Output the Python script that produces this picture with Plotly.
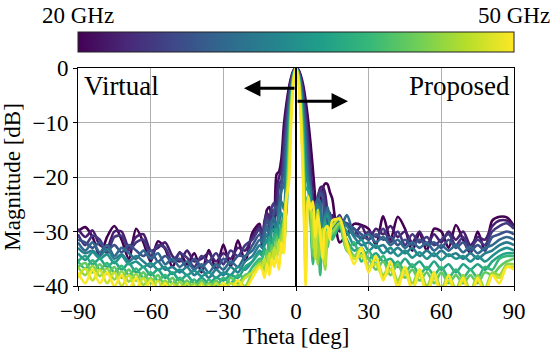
import plotly.graph_objects as go
from plotly.colors import sample_colorscale

# ---- data ----
FREQS_GHZ = [20, 22.5, 25, 27.5, 30, 32.5, 35, 37.5, 40, 42.5, 45, 47.5, 50]

THETA_LEFT = list(range(-90, -14, 3))      # -90 .. -15
THETA_CENTER = list(range(-14, 15, 1))     # -14 .. 14
THETA_RIGHT = list(range(15, 91, 3))       # 15 .. 90

DB_20_0 = ([-30.0, -29.2, -31.0, -34.5, -31.0, -29.0, -31.5, -35.0, -29.5, -32.0,
            -35.5, -31.8, -33.2, -36.5, -33.8, -36.0, -34.0, -37.5, -33.4, -37.0,
            -32.4, -36.5, -31.6, -35.5, -30.2, -28.6]
           + [-33.0, -29.5, -26.0, -25.5, -27.5, -30.0, -19.5, -19.0, -16.5, -10.5,
              -6.7, -3.8, -1.7, -0.4, 0.0, -0.3, -1.4, -3.2, -6.0, -9.5,
              -13.8, -18.8, -24.5, -35.0, -25.5, -22.2, -21.2, -21.3, -22.8]
           + [-24.0, -32.0, -30.5, -28.6, -28.8, -29.5, -32.5, -27.2, -31.5, -27.3,
              -29.5, -33.5, -30.4, -33.5, -29.5, -30.0, -33.0, -28.8, -31.5, -34.0,
              -30.0, -33.5, -28.0, -27.3, -27.4, -29.0])
DB_22_5 = ([-29.5, -31.0, -29.8, -32.5, -33.0, -30.0, -30.0, -33.0, -31.0, -30.5,
            -33.5, -33.0, -32.0, -34.5, -35.5, -33.5, -35.5, -35.0, -34.0, -35.5,
            -34.0, -35.0, -33.0, -33.5, -31.0, -29.0]
           + [-32.0, -28.0, -26.5, -27.5, -26.0, -28.5, -22.5, -20.0, -18.5, -13.0,
              -8.2, -4.6, -2.0, -0.5, 0.0, -0.4, -1.8, -4.2, -7.8, -12.5,
              -18.0, -24.0, -33.0, -24.5, -22.0, -21.8, -23.0, -26.5, -29.0]
           + [-27.0, -30.0, -28.5, -30.5, -29.0, -31.5, -29.5, -30.5, -29.0, -31.0,
              -30.0, -32.0, -30.0, -32.5, -30.5, -32.0, -30.0, -31.5, -30.0, -32.5,
              -31.0, -31.5, -29.0, -28.0, -28.0, -29.0])
DB_25_0 = ([-30.5, -32.5, -30.8, -31.5, -34.0, -31.0, -30.8, -33.5, -32.0, -31.5,
            -34.5, -32.5, -33.0, -35.5, -34.0, -34.8, -36.5, -34.5, -35.5, -34.0,
            -36.0, -33.5, -34.5, -32.5, -31.5, -29.5]
           + [-31.0, -28.5, -27.0, -29.5, -25.5, -24.8, -27.0, -21.5, -20.5, -15.5,
              -10.0, -5.6, -2.5, -0.6, 0.0, -0.5, -2.2, -5.0, -9.2, -14.5,
              -20.5, -30.0, -27.0, -23.5, -22.5, -22.8, -25.0, -30.0, -26.5]
           + [-29.0, -27.0, -30.5, -29.5, -31.5, -30.0, -31.0, -29.5, -32.0, -30.0,
              -32.5, -30.5, -32.0, -31.0, -32.5, -31.5, -30.5, -32.5, -31.0, -33.0,
              -31.5, -32.5, -30.0, -29.0, -28.5, -29.5])
DB_27_5 = ([-31.5, -32.0, -33.0, -32.0, -33.5, -32.5, -33.8, -32.5, -33.5, -34.5,
            -33.5, -35.5, -34.5, -35.5, -35.0, -36.5, -35.0, -36.5, -35.5, -37.0,
            -35.0, -36.0, -34.5, -34.5, -32.5, -30.5]
           + [-31.5, -29.5, -28.0, -28.5, -29.5, -26.0, -25.5, -28.5, -21.5, -18.5,
              -12.0, -6.8, -3.0, -0.7, 0.0, -0.7, -2.7, -6.2, -11.2, -17.5,
              -21.5, -26.0, -31.0, -24.5, -23.0, -23.8, -28.0, -27.5, -27.0]
           + [-28.0, -28.0, -28.5, -29.5, -30.5, -31.5, -30.5, -31.5, -31.0, -32.5,
              -31.5, -32.5, -31.5, -32.5, -32.0, -33.0, -31.5, -33.0, -32.0, -33.5,
              -32.5, -33.5, -31.0, -30.5, -30.0, -30.5])
DB_30_0 = ([-32.0, -33.5, -32.0, -33.8, -32.5, -34.5, -33.0, -34.0, -35.0, -33.5,
            -35.0, -34.0, -36.0, -35.0, -36.5, -35.5, -37.0, -36.0, -37.5, -36.0,
            -37.0, -35.5, -36.5, -34.5, -33.5, -31.5]
           + [-32.0, -30.5, -29.0, -31.0, -28.0, -27.5, -30.0, -25.0, -22.5, -21.5,
              -14.5, -8.2, -3.7, -0.9, 0.0, -0.8, -3.3, -7.5, -13.5, -20.0,
              -22.0, -32.0, -25.5, -24.0, -24.5, -29.0, -27.0, -25.5, -27.5]
           + [-28.5, -29.5, -27.0, -30.5, -31.0, -30.5, -32.0, -31.0, -32.5, -31.5,
              -33.0, -32.0, -33.0, -32.0, -33.5, -32.5, -33.5, -32.5, -33.8, -32.8,
              -34.0, -33.0, -32.5, -31.5, -31.0, -31.5])
DB_32_5 = ([-33.0, -34.0, -33.5, -34.5, -33.2, -35.0, -34.2, -35.5, -34.5, -35.5,
            -36.5, -35.5, -37.0, -36.5, -37.5, -36.5, -38.0, -37.0, -38.5, -37.0,
            -38.0, -36.5, -37.5, -35.5, -34.5, -32.5]
           + [-33.0, -31.5, -30.5, -32.0, -29.0, -28.5, -31.0, -26.0, -24.5, -26.0,
              -18.0, -9.5, -4.2, -1.0, 0.0, -1.0, -3.9, -9.0, -16.5, -21.0,
              -23.0, -33.0, -26.0, -25.0, -26.5, -31.0, -27.0, -26.5, -28.5]
           + [-29.5, -28.0, -29.0, -31.0, -32.5, -32.0, -33.0, -32.5, -34.0, -33.0,
              -34.0, -33.0, -34.5, -33.5, -34.5, -33.5, -34.5, -34.0, -35.0, -34.0,
              -35.0, -34.0, -33.5, -32.5, -32.0, -32.5])
DB_35_0 = ([-34.0, -35.2, -33.8, -35.0, -34.2, -35.8, -34.5, -36.0, -35.5, -36.5,
            -35.8, -37.0, -36.5, -37.8, -37.0, -38.0, -37.2, -38.2, -37.5, -38.5,
            -37.5, -38.0, -36.5, -37.0, -35.5, -33.5]
           + [-34.0, -32.5, -31.5, -33.5, -30.0, -29.5, -32.0, -27.5, -26.5, -29.0,
              -21.0, -11.0, -4.8, -1.2, 0.0, -1.1, -4.5, -10.5, -19.0, -21.5,
              -25.0, -34.0, -27.0, -26.0, -28.5, -33.0, -27.5, -27.0, -29.5]
           + [-30.5, -28.5, -30.0, -32.5, -31.5, -33.5, -32.5, -34.0, -33.0, -34.5,
              -33.5, -34.8, -33.8, -35.0, -34.0, -35.2, -34.2, -35.0, -34.5, -35.5,
              -34.5, -35.5, -34.5, -33.5, -33.0, -33.5])
DB_37_5 = ([-35.5, -34.5, -36.0, -35.0, -36.5, -35.5, -37.0, -35.8, -37.5, -36.5,
            -38.0, -37.0, -38.5, -37.5, -39.0, -38.0, -39.5, -38.5, -39.5, -38.5,
            -39.0, -38.0, -38.5, -36.5, -35.5, -34.0]
           + [-34.5, -33.0, -35.0, -31.0, -32.5, -30.5, -29.5, -32.0, -28.0, -29.5,
              -24.0, -12.5, -5.4, -1.3, 0.0, -1.3, -5.1, -12.0, -22.0, -22.5,
              -26.5, -35.0, -28.0, -28.0, -33.0, -31.5, -28.0, -30.0, -30.0]
           + [-31.0, -28.5, -31.5, -33.5, -33.0, -35.0, -34.0, -35.5, -35.0, -36.5,
              -35.0, -36.5, -35.5, -37.0, -35.5, -37.0, -36.0, -37.5, -36.0, -37.0,
              -36.0, -37.0, -35.5, -34.5, -34.0, -34.0])
DB_40_0 = ([-35.5, -36.8, -35.3, -37.0, -35.8, -37.5, -36.3, -38.0, -36.8, -38.5,
            -37.5, -39.0, -38.0, -39.5, -38.5, -39.8, -38.8, -40.5, -38.8, -40.0,
            -38.5, -39.5, -38.0, -38.5, -36.5, -35.0]
           + [-35.0, -33.5, -34.5, -32.0, -35.5, -31.0, -30.5, -33.5, -29.0, -28.5,
              -26.5, -14.5, -6.0, -1.5, 0.0, -1.4, -5.8, -14.0, -25.0, -23.5,
              -28.0, -36.0, -29.0, -30.5, -38.0, -30.0, -29.0, -33.0, -30.5]
           + [-31.5, -29.0, -33.5, -32.0, -35.5, -33.5, -36.0, -34.5, -37.0, -35.5,
              -37.5, -36.0, -38.0, -36.5, -38.0, -36.5, -38.5, -37.0, -38.5, -37.0,
              -38.5, -36.5, -37.0, -35.0, -34.5, -34.5])
DB_42_5 = ([-36.5, -35.8, -37.5, -36.0, -37.8, -36.5, -38.5, -37.0, -39.0, -37.5,
            -39.5, -38.0, -40.0, -38.5, -40.5, -39.0, -40.5, -39.0, -40.5, -39.0,
            -40.5, -38.5, -39.5, -38.0, -37.5, -35.5]
           + [-35.5, -36.5, -33.5, -35.0, -32.5, -34.5, -31.0, -33.5, -29.5, -32.0,
              -25.0, -16.0, -6.8, -1.7, 0.0, -1.6, -6.6, -16.0, -30.0, -24.0,
              -27.0, -34.5, -28.5, -33.0, -34.5, -31.0, -32.5, -32.0, -30.0]
           + [-30.5, -28.5, -32.0, -34.5, -34.0, -35.0, -37.0, -35.5, -38.0, -36.0,
              -38.5, -37.0, -39.0, -37.5, -39.5, -37.5, -39.5, -38.0, -39.5, -38.0,
              -39.5, -37.5, -38.0, -36.5, -35.5, -35.0])
DB_45_0 = ([-36.5, -38.0, -36.3, -38.2, -36.8, -38.8, -37.3, -39.2, -37.8, -39.8,
            -38.5, -40.5, -39.0, -41.0, -39.2, -41.0, -39.5, -41.5, -39.5, -41.0,
            -39.5, -40.5, -39.0, -40.0, -37.5, -36.0]
           + [-36.0, -37.5, -34.5, -36.5, -33.5, -35.0, -32.0, -33.5, -30.5, -33.0,
              -25.5, -18.0, -7.8, -1.9, 0.0, -1.8, -7.5, -18.0, -35.0, -24.5,
              -26.0, -33.0, -28.0, -36.0, -31.0, -33.5, -37.0, -31.5, -30.0]
           + [-30.0, -28.5, -33.5, -34.5, -33.0, -36.5, -35.0, -38.0, -36.0, -39.0,
              -36.5, -39.5, -37.0, -40.0, -37.5, -40.5, -38.0, -40.5, -38.0, -41.0,
              -38.0, -40.5, -37.5, -38.0, -36.0, -36.0])
DB_47_5 = ([-38.5, -36.8, -39.0, -37.0, -39.5, -37.5, -40.0, -38.0, -40.5, -38.5,
            -41.0, -39.0, -41.5, -39.5, -41.5, -39.5, -41.5, -39.5, -41.5, -39.5,
            -41.0, -39.5, -40.0, -38.5, -37.5, -36.0]
           + [-36.5, -35.0, -37.0, -34.0, -36.0, -33.0, -35.5, -31.5, -34.0, -28.0,
              -23.5, -20.0, -8.8, -2.1, 0.0, -2.0, -8.5, -20.0, -38.0, -24.0,
              -25.5, -28.0, -35.0, -26.0, -32.0, -29.5, -36.0, -30.0, -29.5]
           + [-29.0, -27.5, -33.0, -35.0, -34.5, -36.5, -36.0, -38.5, -37.0, -39.5,
              -37.5, -40.5, -38.0, -41.0, -38.5, -41.0, -39.0, -41.0, -39.0, -41.5,
              -39.0, -41.0, -38.0, -38.5, -36.5, -36.5])
DB_50_0 = ([-37.5, -39.5, -37.0, -39.5, -37.5, -40.0, -38.0, -40.5, -38.5, -41.0,
            -39.0, -41.5, -39.5, -42.0, -40.0, -42.0, -40.0, -42.0, -40.0, -41.5,
            -39.5, -41.0, -39.0, -40.5, -38.5, -36.5]
           + [-37.0, -38.5, -36.0, -38.0, -35.0, -36.5, -34.5, -37.0, -32.0, -34.0,
              -24.0, -21.5, -9.8, -2.4, 0.0, -2.3, -9.5, -22.0, -40.0, -23.5,
              -26.0, -24.5, -31.0, -27.0, -30.0, -35.0, -29.5, -29.0, -31.5]
           + [-28.0, -27.8, -32.0, -36.0, -33.0, -37.5, -34.5, -39.0, -35.5, -40.5,
              -36.5, -41.0, -37.0, -41.5, -37.5, -42.0, -38.0, -41.5, -38.5, -42.0,
              -38.5, -41.5, -38.0, -39.5, -36.5, -37.0])

SERIES = [DB_20_0, DB_22_5, DB_25_0, DB_27_5, DB_30_0, DB_32_5, DB_35_0,
          DB_37_5, DB_40_0, DB_42_5, DB_45_0, DB_47_5, DB_50_0]
X_TICKS = [-90, -60, -30, 0, 30, 60, 90]
Y_TICKS = [-40, -30, -20, -10, 0]

FONT = "Liberation Serif, Times New Roman, serif"
theta = THETA_LEFT + THETA_CENTER + THETA_RIGHT
fmin, fmax = FREQS_GHZ[0], FREQS_GHZ[-1]
colors = sample_colorscale("Viridis", [(f - fmin) / (fmax - fmin) for f in FREQS_GHZ])

fig = go.Figure()
for f, c, db in zip(FREQS_GHZ, colors, SERIES):
    fig.add_trace(go.Scatter(x=theta, y=db, mode="lines", name=f"{f} GHz",
                             line=dict(color=c, width=2.6, shape="spline", smoothing=0.8),
                             showlegend=False, hoverinfo="skip"))

# colorbar carrier
fig.add_trace(go.Scatter(
    x=[0, 0], y=[-60, -60], mode="markers", showlegend=False, hoverinfo="skip",
    marker=dict(size=1, color=[fmin, fmax], colorscale="Viridis",
                cmin=fmin, cmax=fmax, showscale=True,
                colorbar=dict(orientation="h", x=0.5, xanchor="center", y=(292 - 53) / 224,
                              yanchor="bottom", len=1.0, lenmode="fraction", thickness=20,
                              xpad=0, ypad=0, outlinewidth=1, outlinecolor="#222",
                              showticklabels=False, ticks=""))))

fig.add_shape(type="line", x0=0, x1=0, y0=-40, y1=0, xref="x", yref="y",
              line=dict(color="black", width=2), layer="above")

fig.add_annotation(x=-21.5, y=-3.7, ax=0, ay=-3.7, axref="x", ayref="y", xref="x", yref="y",
                   text="", showarrow=True, arrowhead=2, arrowsize=1.1, arrowwidth=3, arrowcolor="black")
fig.add_annotation(x=21.5, y=-6.1, ax=0, ay=-6.1, axref="x", ayref="y", xref="x", yref="y",
                   text="", showarrow=True, arrowhead=2, arrowsize=1.1, arrowwidth=3, arrowcolor="black")

fig.add_annotation(x=-88.5, y=-3.3, xref="x", yref="y", text="Virtual", showarrow=False,
                   xanchor="left", yanchor="middle", font=dict(family=FONT, size=27, color="black"))
fig.add_annotation(x=89, y=-3.3, xref="x", yref="y", text="Proposed", showarrow=False,
                   xanchor="right", yanchor="middle", font=dict(family=FONT, size=27, color="black"))

fig.add_annotation(x=0, y=1.0, xref="paper", yref="paper", yshift=53, text="20 GHz",
                   showarrow=False, xanchor="center", yanchor="middle",
                   font=dict(family=FONT, size=23, color="black"))
fig.add_annotation(x=1, y=1.0, xref="paper", yref="paper", yshift=53, text="50 GHz",
                   showarrow=False, xanchor="center", yanchor="middle",
                   font=dict(family=FONT, size=23, color="black"))

axis_common = dict(showline=True, linecolor="black", linewidth=1, mirror=True,
                   showgrid=True, gridcolor="#b0b0b0", gridwidth=1,
                   ticks="outside", ticklen=4, tickcolor="black", zeroline=False,
                   tickfont=dict(family=FONT, size=23, color="black"))
fig.update_xaxes(range=[-90, 90], tickvals=X_TICKS, title=dict(text="Theta [deg]", standoff=2,
                 font=dict(family=FONT, size=23, color="black")), **axis_common)
fig.update_yaxes(range=[-40, 0], tickvals=Y_TICKS, title=dict(text="Magnitude [dB]", standoff=4,
                 font=dict(family=FONT, size=23, color="black")), **axis_common)

fig.update_layout(width=551, height=354, margin=dict(l=77, r=37, t=68, b=62),
                  paper_bgcolor="white", plot_bgcolor="white",
                  font=dict(family=FONT, size=23, color="black"))
fig.write_html("out.html")
